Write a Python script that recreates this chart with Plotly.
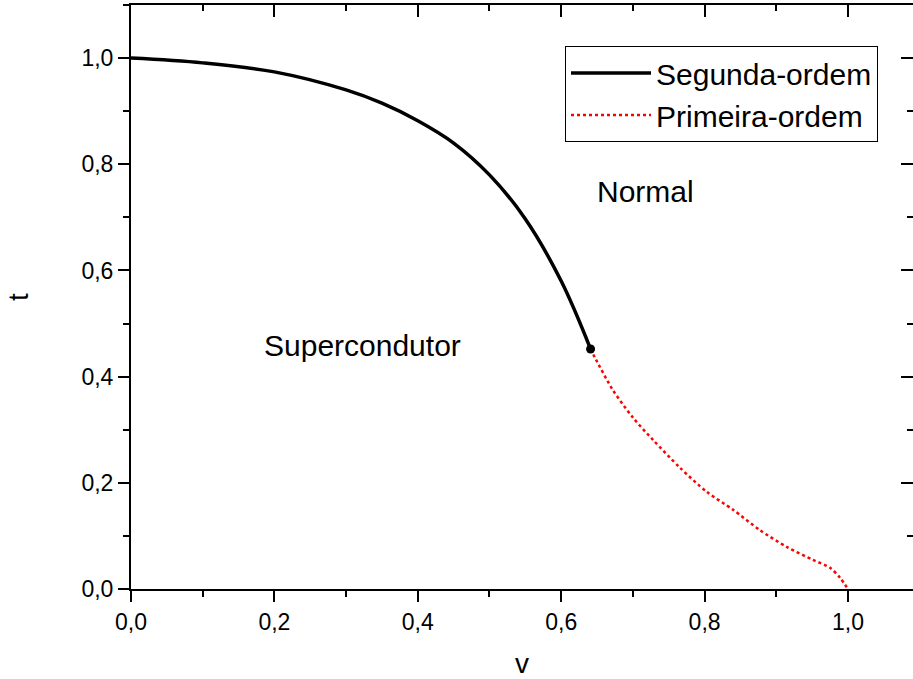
import plotly.graph_objects as go

# Second-order transition line (solid black)
v_second = [0.0, 0.1, 0.2, 0.3, 0.35, 0.4, 0.45, 0.5, 0.55, 0.6, 0.641]
t_second = [1.0, 0.991, 0.974, 0.940, 0.915, 0.882, 0.840, 0.780, 0.697, 0.580, 0.452]

# First-order transition line (dotted red)
v_first = [0.641, 0.647, 0.672, 0.700, 0.728, 0.766, 0.803, 0.840, 0.877, 0.915, 0.951, 0.975, 0.989, 1.0]
t_first = [0.452, 0.436, 0.375, 0.323, 0.281, 0.228, 0.183, 0.149, 0.111, 0.079, 0.055, 0.040, 0.021, 0.0]

# Tricritical point
v_point = [0.641]
t_point = [0.452]

FONT = "Arial, Liberation Sans, sans-serif"

fig = go.Figure()
fig.add_trace(go.Scatter(x=v_second, y=t_second, mode="lines", name="Segunda-ordem",
                         line=dict(color="black", width=3.5, shape="spline", smoothing=1.0)))
fig.add_trace(go.Scatter(x=v_first, y=t_first, mode="lines", name="Primeira-ordem",
                         line=dict(color="red", width=2.5, dash="3px,3px", shape="spline", smoothing=0.8)))
fig.add_trace(go.Scatter(x=v_point, y=t_point, mode="markers", showlegend=False,
                         marker=dict(color="black", size=9)))
# invisible trace to activate mirror axes
fig.add_trace(go.Scatter(x=[0], y=[0], xaxis="x2", yaxis="y2", mode="markers",
                         marker=dict(opacity=0), showlegend=False, hoverinfo="skip"))

XR = [0, 1.0907]
YR = [0, 1.1]

fig.update_layout(
    width=913, height=679,
    margin=dict(l=131, r=0, t=5, b=90),
    paper_bgcolor="white", plot_bgcolor="white",
    separators=", ",
    font=dict(family=FONT, color="black", size=23),
    xaxis=dict(range=XR, showgrid=False, zeroline=False, showline=True, linecolor="black",
               linewidth=2, ticks="outside", ticklen=11, tickwidth=2, tickcolor="black",
               dtick=0.2, tick0=0, tickformat=".1f",
               minor=dict(ticks="outside", ticklen=6, tickwidth=2, dtick=0.1, tickcolor="black"),
               title=dict(text="v", standoff=20, font=dict(size=28))),
    yaxis=dict(range=YR, showgrid=False, zeroline=False, showline=True, linecolor="black",
               linewidth=2, ticks="outside", ticklen=11, tickwidth=2, tickcolor="black",
               dtick=0.2, tick0=0, tickformat=".1f",
               minor=dict(ticks="outside", ticklen=6, tickwidth=2, dtick=0.1, tickcolor="black"),
               title=dict(text="t", standoff=45, font=dict(size=28))),
    xaxis2=dict(range=XR, overlaying="x", side="top", showgrid=False, zeroline=False,
                showline=True, linecolor="black", linewidth=2, ticks="inside", ticklen=12,
                tickwidth=2, tickcolor="black", dtick=0.2, tick0=0, showticklabels=False,
                minor=dict(ticks="inside", ticklen=6, tickwidth=2, dtick=0.1, tickcolor="black")),
    yaxis2=dict(range=YR, overlaying="y", side="right", showgrid=False, zeroline=False,
                showline=False, ticks="inside", ticklen=12, tickwidth=2, tickcolor="black",
                dtick=0.2, tick0=0, showticklabels=False,
                minor=dict(ticks="inside", ticklen=6, tickwidth=2, dtick=0.1, tickcolor="black")),
    legend=dict(x=0.555, y=0.93, xanchor="left", yanchor="top", bgcolor="white",
                bordercolor="black", borderwidth=1, font=dict(size=30, family=FONT),
                itemwidth=80, tracegroupgap=0),
    showlegend=True,
    annotations=[
        dict(x=0.717, y=0.748, xref="x", yref="y", text="Normal", showarrow=False,
             font=dict(size=30, family=FONT)),
        dict(x=0.323, y=0.458, xref="x", yref="y", text="Supercondutor", showarrow=False,
             font=dict(size=30, family=FONT)),
    ],
)

fig.write_html("out.html")
